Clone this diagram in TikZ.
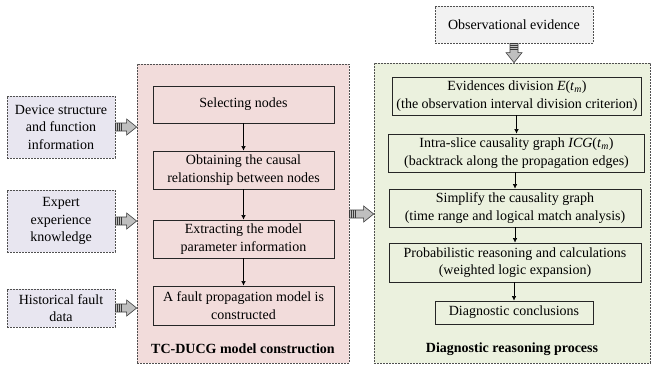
\documentclass[tikz,border=0pt]{standalone}
\usepackage{fontspec}
\setmainfont{Liberation Serif}
\usetikzlibrary{calc,arrows.meta}

\definecolor{pinkbg}{HTML}{F2DCDB}
\definecolor{greenbg}{HTML}{EBF1DE}
\definecolor{srcbg}{HTML}{E8E6F0}
\definecolor{obsbg}{HTML}{F2F2F2}
\definecolor{panelline}{HTML}{505050}
\definecolor{boxline}{HTML}{262626}
\definecolor{arrowfill}{HTML}{BFBFBF}
\definecolor{arrowline}{HTML}{3A3A3A}

% block arrow with a striped tail, from #1 to #2
\newcommand\fatarrow[2]{%
  \filldraw[fill=arrowfill,draw=arrowline,line width=0.6pt,line join=miter]
    ($(#1)!4pt!90:(#2)$)
    -- ($($(#2)!10pt!(#1)$)!4pt!-90:(#1)$)
    -- ($($(#2)!10pt!(#1)$)!8pt!-90:(#1)$)
    -- (#2)
    -- ($($(#2)!10pt!(#1)$)!8pt!90:(#1)$)
    -- ($($(#2)!10pt!(#1)$)!4pt!90:(#1)$)
    -- ($(#1)!4pt!-90:(#2)$) -- cycle;
  \draw[arrowline,line width=7.4pt,dash pattern=on 0.9pt off 1.1pt]
    (#1) -- ($(#1)!7pt!(#2)$);
}

\tikzset{
  panel/.style={draw=panelline,line width=0.7pt,dash pattern=on 2pt off 1pt,
    minimum width=#1,inner sep=0pt},
  srcbox/.style={draw=panelline,fill=srcbg,line width=0.7pt,dash pattern=on 2pt off 1pt,
    minimum width=108pt,inner sep=0pt,align=center},
  stepbox/.style={draw=boxline,line width=0.8pt,inner sep=0pt,align=center},
  flow/.style={draw=black,line width=0.6pt,-{Latex[length=4.5pt,width=4.5pt]}},
  title/.style={font=\bfseries,inner sep=0pt},
}

\begin{document}
\begin{tikzpicture}[x=1pt,y=-1pt,every node/.append style={text=black}]
\fontsize{14}{17.5}\selectfont
\useasboundingbox (0,0) rectangle (652,365);

% source boxes
\node[srcbox,minimum height=62pt] (dev) at (61,127) {Device structure\\and function\\information};
\node[srcbox,minimum height=62pt] (exp) at (61,221) {Expert\\experience\\knowledge};
\node[srcbox,minimum height=38pt] (his) at (61,308) {Historical fault\\data};

% model construction panel
\node[panel=212pt,fill=pinkbg,minimum height=299pt] (pink) at (243,213.5) {};
\node[stepbox,minimum width=181pt,minimum height=37pt] (sel) at (243.5,104.5) {Selecting nodes};
\node[stepbox,minimum width=181pt,minimum height=38pt] (obt) at (243.5,170) {Obtaining the causal\\relationship between nodes};
\node[stepbox,minimum width=181pt,minimum height=38pt] (ext) at (243.5,239) {Extracting the model\\parameter information};
\node[stepbox,minimum width=181pt,minimum height=39pt] (flt) at (243.5,305.5) {A fault propagation model is\\constructed};
\node[title] (ptitle) at (243,349) {TC-DUCG model construction};

% diagnostic reasoning panel
\node[panel=276pt,fill=greenbg,minimum height=300pt] (green) at (512,213) {};
\node[draw=panelline,fill=obsbg,line width=0.7pt,dash pattern=on 2pt off 1pt,
  minimum width=158pt,minimum height=37pt,inner sep=0pt] (obs) at (514,24.5) {Observational evidence};
\node[stepbox,minimum width=249pt,minimum height=38pt] (evd) at (517,96)
  {Evidences division \textit{E}(\textit{t}\textsubscript{\textit{m}})\\(the observation interval division criterion)};
\node[stepbox,minimum width=256pt,minimum height=38pt] (icg) at (516.5,153)
  {Intra-slice causality graph \textit{ICG}(\textit{t}\textsubscript{\textit{m}})\\(backtrack along the propagation edges)};
\node[stepbox,minimum width=252pt,minimum height=38pt] (smp) at (515,208)
  {Simplify the causality graph\\(time range and logical match analysis)};
\node[stepbox,minimum width=252pt,minimum height=39pt] (prb) at (515,262.5)
  {Probabilistic reasoning and calculations\\(weighted logic expansion)};
\node[stepbox,minimum width=158pt,minimum height=23pt] (dgn) at (514,312.5) {Diagnostic conclusions};
\node[title] (gtitle) at (512,349) {Diagnostic reasoning process};

% step connectors
\draw[flow] (sel) -- (obt);
\draw[flow] (obt) -- (ext);
\draw[flow] (ext) -- (flt);
\draw[flow] (evd.south -| icg.north) -- (icg);
\draw[flow] (icg.south -| smp.north) -- (smp);
\draw[flow] (smp) -- (prb.north -| smp.south);
\draw[flow] (prb.south -| dgn.north) -- (dgn);

% block arrows into the panels
\coordinate (t1) at (dev.east -| pink.west);
\coordinate (t2) at (exp.east -| pink.west);
\coordinate (t3) at (his.east -| pink.west);
\fatarrow{dev.east}{t1}
\fatarrow{exp.east}{t2}
\fatarrow{his.east}{t3}
\coordinate (m1) at (pink.east |- 0,214);
\coordinate (m2) at (green.west |- 0,214);
\fatarrow{m1}{m2}
\coordinate (o2) at (obs.south |- green.north);
\fatarrow{obs.south}{o2}
\end{tikzpicture}
\end{document}
